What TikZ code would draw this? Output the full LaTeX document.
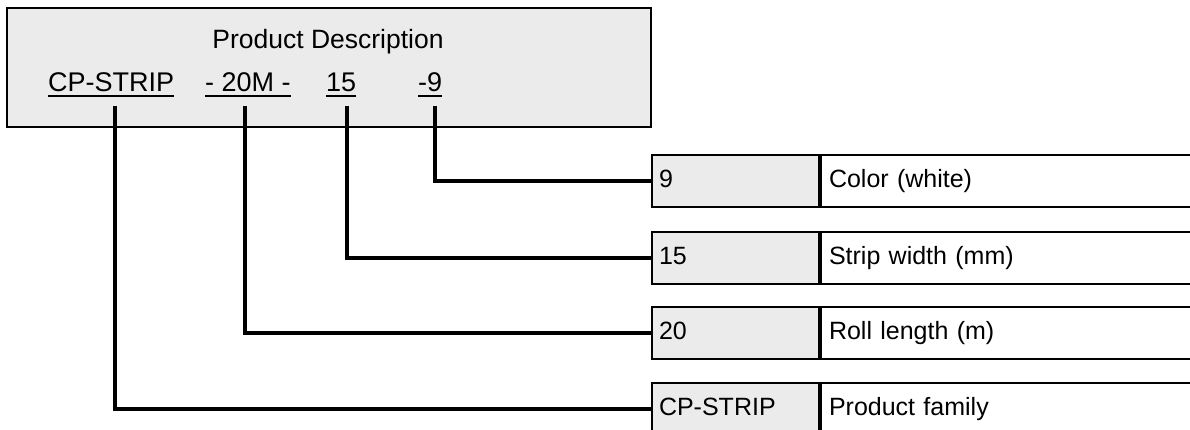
\documentclass[tikz,border=0pt]{standalone}
\usepackage{fontspec}
\setmainfont{Liberation Sans}
\tikzset{
  txt/.style={inner sep=0pt, anchor=base west, font=\fontsize{27}{32}\selectfont},
  ulline/.style={line width=2pt},
  panel/.style={draw, line width=2pt, fill=panelgray, inner sep=0pt},
  keycell/.style={draw, line width=2pt, fill=panelgray, anchor=north west, minimum height=52pt, text width=153pt, inner xsep=7pt, inner ysep=0pt, align=left, text height=18pt, text depth=5pt, font=\fontsize{25}{30}\selectfont},
  desccell/.style={draw, line width=2pt, fill=white, anchor=north west, minimum height=52pt, text width=400pt, inner xsep=8pt, inner ysep=0pt, align=left, text height=18pt, text depth=5pt, font=\fontsize{25}{30}\selectfont},
  conn/.style={line width=4.5pt, line cap=rect},
}
\definecolor{panelgray}{HTML}{EBEBEB}
\begin{document}
\begin{tikzpicture}[x=1pt,y=-1pt]
\useasboundingbox (0,0) rectangle (1190,430);
\clip (0,0) rectangle (1190,430);
% top panel
\node[panel, minimum width=644pt, minimum height=119pt] (desc) at (329,67.5) {};
\node[txt, anchor=base, font=\fontsize{26.5}{32}\selectfont] (title) at (328,49) {Product Description};
\node[txt] (u1) at (48,92) {CP-STRIP};
\node[txt] (u2) at (205,92) {- 20M -};
\node[txt] (u3) at (326,92) {15};
\node[txt] (u4) at (418,92) {-9};
\foreach \u in {u1,u2,u3,u4}{
  \draw[ulline] ([yshift=-4.5pt]\u.base west) -- ([yshift=-4.5pt]\u.base east);
}
% rows
\node[keycell] (k1) at (651,154) {9};
\node[desccell] (d1) at (k1.north east) {Color (white)};
\node[keycell] (k2) at (651,231) {15};
\node[desccell] (d2) at (k2.north east) {Strip width (mm)};
\node[keycell] (k3) at (651,306) {20};
\node[desccell] (d3) at (k3.north east) {Roll length (m)};
\node[keycell] (k4) at (651,382) {CP-STRIP};
\node[desccell] (d4) at (k4.north east) {Product family};
% connectors
\coordinate (c1) at (115,108);
\coordinate (c2) at (245,108);
\coordinate (c3) at (347,108);
\coordinate (c4) at (435,108);
\draw[conn] (c4) |- (k1.west);
\draw[conn] (c3) |- (k2.west);
\draw[conn] (c2) |- (k3.west);
\draw[conn] (c1) |- (k4.west);
\end{tikzpicture}
\end{document}
